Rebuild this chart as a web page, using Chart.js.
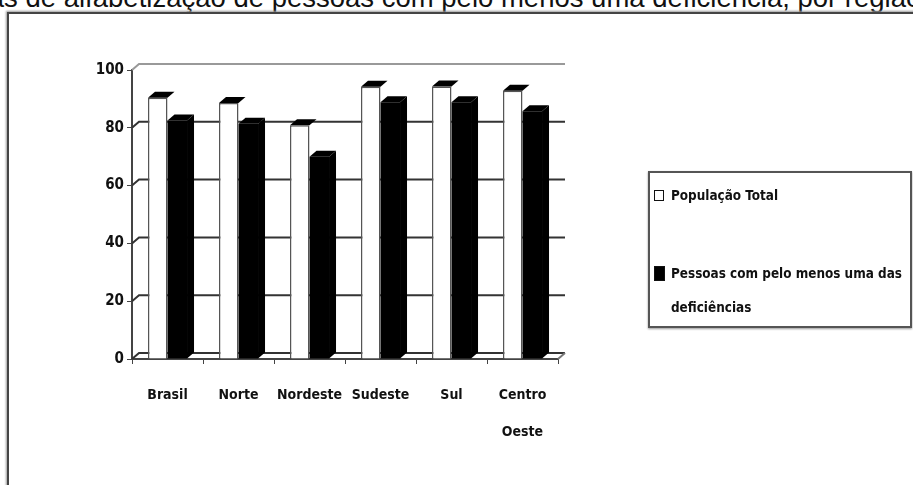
<!DOCTYPE html>
<html>
<head>
<meta charset="utf-8">
<script src="https://cdn.jsdelivr.net/npm/chart.js@4"></script>
<style>
	html, body { margin: 0; padding: 0; background: #fff; overflow: hidden; }
	#page { position: relative; width: 913px; height: 485px; overflow: hidden; }
	#title {
		position: absolute; left: -54px; top: -16px; white-space: nowrap;
		font-family: 'Liberation Sans', Arial, sans-serif; font-size: 27.5px; line-height: 28px; color: #111;
	}
	#frame {
		position: absolute; left: 7px; top: 12px; width: 1000px; height: 1000px;
		border-left: 2px solid #444; border-top: 2px solid #444;
		box-shadow: -1px -1px 2px #999;
	}
	#chartBox { position: absolute; left: 0; top: 0; width: 913px; height: 485px; }
	#legend {
		position: absolute; left: 648px; top: 171px; width: 260px; height: 153px;
		border: 2px solid #555; box-shadow: 0 1px 2px #999; background: #fff;
		font-family: 'DejaVu Sans Condensed', 'DejaVu Sans', sans-serif;
		font-weight: bold; font-size: 13.4px; color: #111;
	}
	.item { position: absolute; left: 4px; width: 256px; }
	.swatch { position: absolute; left: 0; border: 1px solid #111; }
	.text { margin-left: 17px; line-height: 34px; }
</style>
</head>
<body>
<div id="page">
	<div id="title">Taxas de alfabetização de pessoas com pelo menos uma deficiência, por região</div>
	<div id="frame"></div>
	<div id="chartBox"><canvas id="bars"></canvas></div>
	<div id="legend"></div>
</div>
<script>
const regions = ['Brasil', 'Norte', 'Nordeste', 'Sudeste', 'Sul', ['Centro', 'Oeste']];
const totalPop = [90.4, 88.6, 80.9, 94.2, 94.3, 92.8];
const withDisability = [82.5, 81.4, 70.0, 88.8, 88.8, 85.7];
const seriesNames = ['População Total', 'Pessoas com pelo menos uma das deficiências'];
const seriesColors = ['#ffffff', '#000000'];
const yTicks = [0, 20, 40, 60, 80, 100];

const FONT = "'DejaVu Sans Condensed', 'DejaVu Sans', sans-serif";
//3d depth offset of the back wall
const DX = 7;
const DY = -6;

//draws back wall grid, floor and the top/side faces of each bar
const depthPlugin = {
	id: 'depth',
	beforeDatasetsDraw(chart) {
		const ctx = chart.ctx;
		const area = chart.chartArea;
		const y = chart.scales.y;
		ctx.save();
		ctx.lineWidth = 2;
		yTicks.forEach(v => {
			const py = y.getPixelForValue(v);
			ctx.strokeStyle = v === 100 ? '#999' : '#333';
			ctx.beginPath();
			ctx.moveTo(area.left, py);
			ctx.lineTo(area.left + DX, py + DY);
			ctx.lineTo(area.right + DX, py + DY);
			ctx.stroke();
		});
		//right edge of the floor
		const base = y.getPixelForValue(0);
		ctx.strokeStyle = '#777';
		ctx.beginPath();
		ctx.moveTo(area.right + DX, base + DY);
		ctx.lineTo(area.right, base);
		ctx.stroke();
		ctx.restore();
	},
	afterDatasetsDraw(chart) {
		const ctx = chart.ctx;
		ctx.save();
		ctx.fillStyle = '#000';
		chart.data.datasets.forEach((ds, di) => {
			chart.getDatasetMeta(di).data.forEach(bar => {
				const x0 = bar.x - bar.width / 2;
				const x1 = bar.x + bar.width / 2;
				//top face
				ctx.beginPath();
				ctx.moveTo(x0, bar.y);
				ctx.lineTo(x0 + DX, bar.y + DY);
				ctx.lineTo(x1 + DX, bar.y + DY);
				ctx.lineTo(x1, bar.y);
				ctx.closePath();
				ctx.fill();
				//side face, only seen on the dark bar
				if (di === 1) {
					ctx.beginPath();
					ctx.moveTo(x1, bar.y);
					ctx.lineTo(x1 + DX, bar.y + DY);
					ctx.lineTo(x1 + DX, bar.base + DY);
					ctx.lineTo(x1, bar.base);
					ctx.closePath();
					ctx.fill();
				}
			});
		});
		ctx.restore();
	}
};

function buildLegend() {
	const box = document.getElementById('legend');
	const tops = [6, 84];
	const swatchSize = [[8, 9, 12], [9, 13, 11]];
	seriesNames.forEach((name, i) => {
		const item = document.createElement('div');
		item.className = 'item';
		item.style.top = tops[i] + 'px';
		const sw = document.createElement('div');
		sw.className = 'swatch';
		sw.style.background = seriesColors[i];
		sw.style.width = swatchSize[i][0] + 'px';
		sw.style.height = swatchSize[i][1] + 'px';
		sw.style.top = swatchSize[i][2] - (i === 1 ? 2 : 1) + 'px';
		const txt = document.createElement('div');
		txt.className = 'text';
		txt.textContent = name;
		item.appendChild(sw);
		item.appendChild(txt);
		box.appendChild(item);
	});
}

function generateChart() {
	const ctx = document.getElementById('bars').getContext('2d');
	new Chart(ctx, {
		type: 'bar',
		data: {
			labels: regions,
			datasets: [
				{
					label: seriesNames[0],
					data: totalPop,
					backgroundColor: seriesColors[0],
					borderColor: '#555',
					borderWidth: 1.5,
					categoryPercentage: 0.55,
					barPercentage: 1.0
				},
				{
					label: seriesNames[1],
					data: withDisability,
					backgroundColor: seriesColors[1],
					borderColor: '#000',
					borderWidth: 0,
					categoryPercentage: 0.55,
					barPercentage: 1.0
				}
			]
		},
		options: {
			responsive: true,
			maintainAspectRatio: false,
			animation: false,
			layout: { padding: { left: 92, top: 70, right: 355, bottom: 46 } },
			plugins: {
				legend: { display: false },
				title: { display: false },
				tooltip: { enabled: false }
			},
			scales: {
				x: {
					border: { display: true, color: '#444', width: 2 },
					grid: { drawOnChartArea: false, drawTicks: true, tickLength: 5, color: '#444' },
					ticks: {
						color: '#111',
						padding: 13,
						maxRotation: 0,
						autoSkip: false,
						font: { family: FONT, size: 14, weight: 'bold', lineHeight: 2.64 }
					},
					afterFit(scale) { scale.height = 80; }
				},
				y: {
					min: 0,
					max: 100,
					border: { display: true, color: '#444', width: 2 },
					grid: { drawOnChartArea: false, drawTicks: true, tickLength: 5, color: '#444' },
					ticks: {
						stepSize: 20,
						color: '#111',
						padding: 3,
						font: { family: FONT, size: 15, weight: 'bold' }
					},
					afterFit(scale) { scale.width = 40; }
				}
			}
		},
		plugins: [depthPlugin]
	});
}

buildLegend();
generateChart();
</script>
</body>
</html>
